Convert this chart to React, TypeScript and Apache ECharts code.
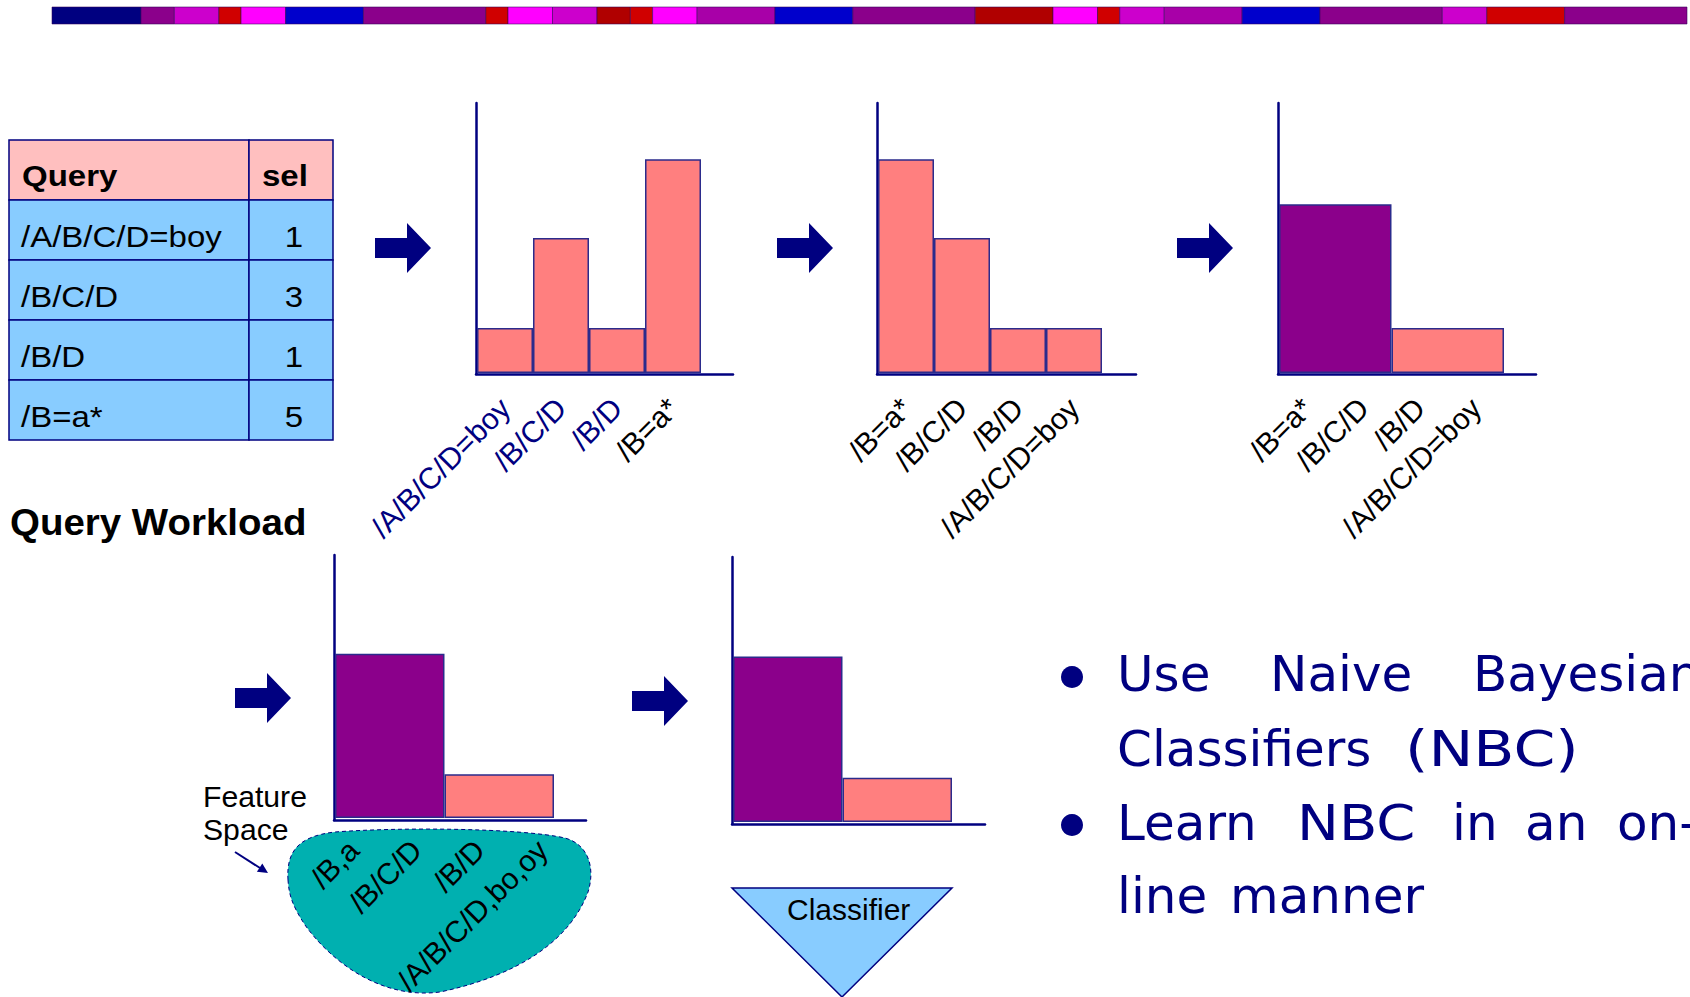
import React, { useEffect, useRef } from 'react';
import * as echarts from 'echarts';

// ---------- data ----------
const NAVY = '#000080';
const PINK = '#FF7F7F';
const PURPLE = '#8B008B';
const BLACK = '#000000';

// decorative ribbon at the top (colour + relative width units)
const ribbonColors = ['#000080', '#8B008B', '#CC00CC', '#D00000', '#FF00FF', '#0000CC', '#8B008B', '#D00000', '#FF00FF', '#CC00CC', '#B00000', '#D00000', '#FF00FF', '#A800A8', '#0000CC', '#8B008B', '#B00000', '#FF00FF', '#D00000', '#CC00CC', '#A800A8', '#0000CC', '#8B008B', '#CC00CC', '#D00000', '#8B008B'];
const ribbonUnits = [8, 3, 4, 2, 4, 7, 11, 2, 4, 4, 3, 2, 4, 7, 7, 11, 7, 4, 2, 4, 7, 7, 11, 4, 7, 11];

// query workload table
const tableHeader = ['Query', 'sel'];
const tableQueries = ['/A/B/C/D=boy', '/B/C/D', '/B/D', '/B=a*'];
const tableSel = [1, 3, 1, 5];

// histogram 1 (workload order)
const h1Labels = ['/A/B/C/D=boy', '/B/C/D', '/B/D', '/B=a*'];
const h1LabelColors = [NAVY, NAVY, NAVY, BLACK];
const h1Values = [1, 3, 1, 4.75];
const h1Colors = [PINK, PINK, PINK, PINK];

// histogram 2 (sorted)
const h2Labels = ['/B=a*', '/B/C/D', '/B/D', '/A/B/C/D=boy'];
const h2LabelColors = [BLACK, BLACK, BLACK, BLACK];
const h2Values = [4.75, 3, 1, 1];
const h2Colors = [PINK, PINK, PINK, PINK];

// histogram 3 (two buckets)
const h3Labels = ['/B=a*', '/B/C/D', '/B/D', '/A/B/C/D=boy'];
const h3LabelColors = [BLACK, BLACK, BLACK, BLACK];
const h3Groups = ['/B=a*, /B/C/D', '/B/D, /A/B/C/D=boy'];
const h3Values = [3.75, 1];
const h3Colors = [PURPLE, PINK];

// histogram 4 (feature space)
const h4Labels = ['/B,a', '/B/C/D', '/B/D', '/A/B/C/D,bo,oy'];
const h4LabelColors = [BLACK, BLACK, BLACK, BLACK];
const h4Groups = ['/B,a, /B/C/D', '/B/D, /A/B/C/D,bo,oy'];
const h4Values = [3.75, 1];
const h4Colors = [PURPLE, PINK];

// histogram 5 (classifier)
const h5Groups = ['class 1', 'class 2'];
const h5Values = [3.75, 1];
const h5Colors = [PURPLE, PINK];

const Y_MAX = 6;

// bullet text (words placed to reproduce the justified lines)
const bulletLines: [string, number, number][][] = [
  [['Use', 1117, 1], ['Naive', 1270, 1], ['Bayesian', 1473, 1]],
  [['Classifiers', 1117, 1], ['(NBC)', 1405, 1.2]],
  [['Learn', 1117, 1], ['NBC', 1297, 1.12], ['in', 1452, 1], ['an', 1525, 1], ['on-', 1617, 1]],
  [['line', 1117, 1], ['manner', 1230, 1]],
];
const bulletBaselines = [691, 766, 840, 913];
const bulletDots = [677, 825];

// ---------- shapes ----------
const BLOB_D =
  'M 288 880 C 286 850 300 836 335 832 C 400 827 520 828 565 838 C 590 845 595 870 588 892 C 570 940 520 975 440 992 C 380 1000 330 960 305 925 C 292 905 289 895 288 880 Z';
echarts.graphic.registerShape('featureBlob', echarts.graphic.extendPath(BLOB_D, {}));

type Box = { left: number; top: number; width: number; height: number };
type Spec = {
  labels: string[];
  labelColors: string[];
  groups: string[] | null;
  values: number[];
  colors: string[];
  frame: Box;
  bars: Box;
  labelBox?: Box;
  labelMargin: number;
};

const specs: Spec[] = [
  {
    labels: h1Labels, labelColors: h1LabelColors, groups: null, values: h1Values, colors: h1Colors,
    frame: { left: 476, top: 103, width: 257, height: 271 },
    bars: { left: 477, top: 103, width: 224, height: 270 },
    labelMargin: 30,
  },
  {
    labels: h2Labels, labelColors: h2LabelColors, groups: null, values: h2Values, colors: h2Colors,
    frame: { left: 877, top: 103, width: 259, height: 271 },
    bars: { left: 878, top: 103, width: 224, height: 270 },
    labelMargin: 30,
  },
  {
    labels: h3Labels, labelColors: h3LabelColors, groups: h3Groups, values: h3Values, colors: h3Colors,
    frame: { left: 1278, top: 103, width: 258, height: 271 },
    bars: { left: 1279, top: 103, width: 225, height: 270 },
    labelMargin: 30,
  },
  {
    labels: h4Labels, labelColors: h4LabelColors, groups: h4Groups, values: h4Values, colors: h4Colors,
    frame: { left: 334, top: 555, width: 252, height: 265 },
    bars: { left: 335, top: 555, width: 219, height: 263 },
    labelBox: { left: 322, top: 555, width: 252, height: 263 },
    labelMargin: 27,
  },
  {
    labels: [], labelColors: [], groups: h5Groups, values: h5Values, colors: h5Colors,
    frame: { left: 732, top: 557, width: 253, height: 267 },
    bars: { left: 733, top: 557, width: 219, height: 265 },
    labelMargin: 30,
  },
];

function text(
  str: string, x: number, baseline: number, size: number, opts: any = {}
): any {
  const family = opts.family || 'Liberation Sans';
  const align = opts.align || 'left';
  return {
    type: 'text',
    x,
    y: baseline - 0.346 * size,
    scaleX: opts.scaleX || 1,
    z: opts.z ?? 5,
    silent: true,
    style: {
      text: str,
      fontSize: size,
      fontFamily: family,
      fontWeight: opts.bold ? 'bold' : 'normal',
      fill: opts.color || BLACK,
      align,
      textAlign: align,
      verticalAlign: 'middle',
      textVerticalAlign: 'middle',
    },
  };
}

function buildOption() {
  const grids: any[] = [];
  const xAxes: any[] = [];
  const yAxes: any[] = [];
  const series: any[] = [];

  const axisLineStyle = { color: NAVY, width: 2.5 };
  const gridBase = { containLabel: false, outerBoundsMode: 'none', show: false };

  specs.forEach((s) => {
    const gFrame = grids.length;
    grids.push({ ...s.frame, ...gridBase });
    const gBars = grids.length;
    grids.push({ ...s.bars, ...gridBase });

    // frame axes (the L-shaped axis lines)
    xAxes.push({
      gridIndex: gFrame, type: 'value', min: 0, max: 1,
      axisLine: { show: true, onZero: false, lineStyle: axisLineStyle },
      axisTick: { show: false }, axisLabel: { show: false }, splitLine: { show: false },
    });
    yAxes.push({
      gridIndex: gFrame, type: 'value', min: 0, max: 1,
      axisLine: { show: true, onZero: false, lineStyle: axisLineStyle },
      axisTick: { show: false }, axisLabel: { show: false }, splitLine: { show: false },
    });

    const colors = s.labelColors;
    const labelAxis = (gridIndex: number) => ({
      gridIndex, type: 'category', position: 'bottom',
      data: s.labels,
      boundaryGap: true,
      axisLine: { show: false }, axisTick: { show: false }, splitLine: { show: false },
      axisLabel: {
        show: true,
        interval: 0,
        rotate: 45,
        margin: s.labelMargin,
        fontSize: 30,
        fontFamily: 'Liberation Sans',
        color: (_v: any, i: number) => colors[i] || BLACK,
      },
    });

    let bx: number;
    if (s.labelBox) {
      const gL = grids.length;
      grids.push({ ...s.labelBox, ...gridBase });
      xAxes.push(labelAxis(gL));
      yAxes.push({ gridIndex: gL, type: 'value', min: 0, max: Y_MAX, show: false, splitLine: { show: false } });
      bx = xAxes.length;
      xAxes.push({ gridIndex: gBars, type: 'category', position: 'bottom', show: false, data: s.groups, boundaryGap: true });
    } else if (s.labels.length) {
      const lx = xAxes.length;
      xAxes.push(labelAxis(gBars));
      bx = lx;
      if (s.groups) {
        bx = xAxes.length;
        xAxes.push({ gridIndex: gBars, type: 'category', position: 'top', show: false, data: s.groups, boundaryGap: true });
      }
    } else {
      bx = xAxes.length;
      xAxes.push({ gridIndex: gBars, type: 'category', position: 'bottom', show: false, data: s.groups, boundaryGap: true });
    }
    const by = yAxes.length;
    yAxes.push({ gridIndex: gBars, type: 'value', min: 0, max: Y_MAX, show: false, splitLine: { show: false } });

    series.push({
      type: 'bar',
      xAxisIndex: bx,
      yAxisIndex: by,
      barCategoryGap: '0%',
      silent: true,
      itemStyle: { borderColor: '#2B2B8C', borderWidth: 1.5 },
      data: s.values.map((v, j) => ({ value: v, itemStyle: { color: s.colors[j] } })),
    });
  });

  const els: any[] = [];

  // ribbon
  const totalUnits = ribbonUnits.reduce((a, b) => a + b, 0);
  const rx0 = 52, rx1 = 1687;
  const unit = (rx1 - rx0) / totalUnits;
  let acc = 0;
  ribbonUnits.forEach((u, i) => {
    els.push({
      type: 'rect', silent: true,
      shape: { x: rx0 + acc * unit, y: 7, width: u * unit, height: 17 },
      style: { fill: ribbonColors[i], stroke: 'rgba(50,0,90,0.55)', lineWidth: 1 },
    });
    acc += u;
  });

  // table
  const tx = 9, tc = 249, tr = 333, ty = 140, rowH = 60;
  els.push({ type: 'rect', silent: true, shape: { x: tx, y: ty, width: tc - tx, height: rowH }, style: { fill: '#FFBFBF', stroke: NAVY, lineWidth: 1.5 } });
  els.push({ type: 'rect', silent: true, shape: { x: tc, y: ty, width: tr - tc, height: rowH }, style: { fill: '#FFBFBF', stroke: NAVY, lineWidth: 1.5 } });
  els.push(text(tableHeader[0], 22, ty + 46, 30, { bold: true, scaleX: 1.1 }));
  els.push(text(tableHeader[1], 262, ty + 46, 30, { bold: true, scaleX: 1.1 }));
  tableQueries.forEach((q, i) => {
    const y = ty + rowH * (i + 1);
    els.push({ type: 'rect', silent: true, shape: { x: tx, y, width: tc - tx, height: rowH }, style: { fill: '#88CCFF', stroke: NAVY, lineWidth: 1.5 } });
    els.push({ type: 'rect', silent: true, shape: { x: tc, y, width: tr - tc, height: rowH }, style: { fill: '#88CCFF', stroke: NAVY, lineWidth: 1.5 } });
    els.push(text(q, 21, y + 47, 30, { scaleX: 1.1 }));
    els.push(text(String(tableSel[i]), 294, y + 47, 30, { align: 'center', scaleX: 1.1 }));
  });
  els.push(text('Query Workload', 10, 535, 37, { bold: true, scaleX: 1.04 }));

  // block arrows
  const arrowTails = [[375, 248], [777, 248], [1177, 248], [235, 698], [632, 701]];
  arrowTails.forEach(([x, y]) => {
    els.push({
      type: 'polygon', silent: true,
      shape: { points: [[x, y - 10], [x + 32, y - 10], [x + 32, y - 25], [x + 56, y], [x + 32, y + 25], [x + 32, y + 10], [x, y + 10]] },
      style: { fill: NAVY },
    });
  });

  // feature space blob
  els.push({
    type: 'featureBlob', x: 0, y: 0, z: -1, silent: true,
    style: { fill: '#00B0B0', stroke: NAVY, lineWidth: 1, lineDash: [4, 3] },
  });
  els.push(text('Feature', 203, 807, 29, { scaleX: 1.04 }));
  els.push(text('Space', 203, 840, 29, { scaleX: 1.04 }));
  els.push({ type: 'line', silent: true, shape: { x1: 235, y1: 852, x2: 260, y2: 868 }, style: { stroke: NAVY, lineWidth: 2 } });
  els.push({ type: 'polygon', silent: true, shape: { points: [[268, 873], [256.9, 871.8], [262.3, 863.4]] }, style: { fill: NAVY } });

  // classifier triangle
  els.push({
    type: 'polygon', silent: true,
    shape: { points: [[732, 888], [952, 888], [842, 997]] },
    style: { fill: '#88CCFF', stroke: NAVY, lineWidth: 1.5 },
  });
  els.push(text('Classifier', 787, 920, 30));

  // bullets
  bulletDots.forEach((cy) => {
    els.push({ type: 'circle', silent: true, shape: { cx: 1072, cy, r: 11 }, style: { fill: NAVY } });
  });
  bulletLines.forEach((line, li) => {
    line.forEach(([w, x, sx]) => {
      els.push(text(w, x, bulletBaselines[li], 50, { family: 'DejaVu Sans', color: NAVY, scaleX: sx }));
    });
  });

  return {
    animation: false,
    backgroundColor: '#FFFFFF',
    grid: grids,
    xAxis: xAxes,
    yAxis: yAxes,
    series,
    graphic: { elements: els },
  };
}

export default function App() {
  const ref = useRef<HTMLDivElement>(null);
  useEffect(() => {
    document.body.style.margin = '0';
    if (!ref.current) return;
    const chart = echarts.init(ref.current, undefined, { renderer: 'svg' });
    chart.setOption(buildOption() as any);
    return () => chart.dispose();
  }, []);
  return (
    <div
      ref={ref}
      style={{ position: 'absolute', left: 0, top: 0, width: 1690, height: 997, background: '#fff' }}
    />
  );
}
